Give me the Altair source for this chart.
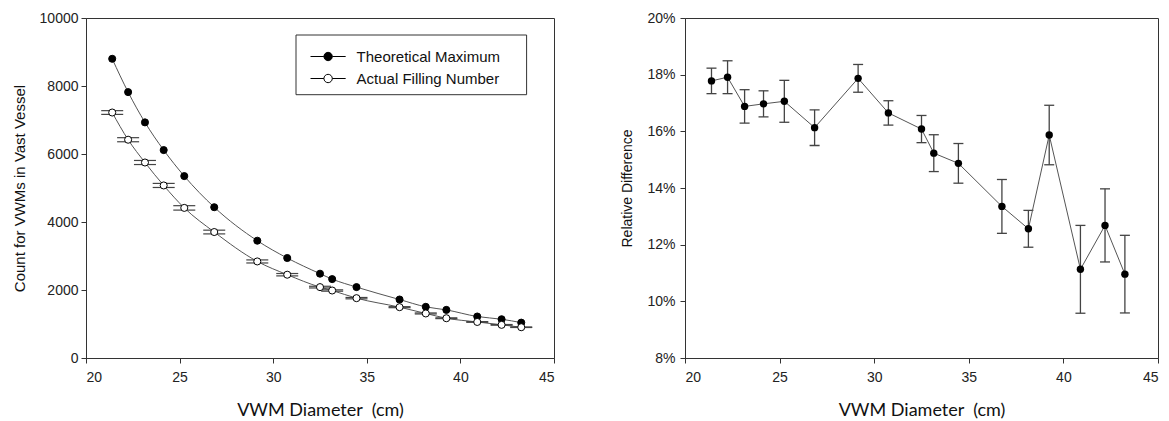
import altair as alt
import pandas as pd

# ---------------- data ----------------
diameter = [21.4, 22.25, 23.15, 24.15, 25.25, 26.85, 29.15, 30.75, 32.5,
            33.15, 34.45, 36.75, 38.15, 39.25, 40.9, 42.2, 43.25]
theoretical = [8800, 7820, 6930, 6115, 5350, 4435, 3450, 2940, 2480,
               2320, 2085, 1720, 1505, 1415, 1220, 1140, 1040]
actual = [7220, 6420, 5750, 5075, 4415, 3705, 2840, 2450, 2085,
          1985, 1760, 1495, 1310, 1170, 1060, 975, 905]
actual_err = [55, 60, 60, 60, 65, 55, 45, 35, 25, 20, 20, 15, 15, 12, 10, 10, 8]
rel_diff = [17.78, 17.91, 16.88, 16.97, 17.06, 16.13, 17.87, 16.65, 16.08,
            15.23, 14.87, 13.35, 12.56, 15.87, 11.13, 12.68, 10.96]
rel_err = [0.45, 0.58, 0.59, 0.46, 0.74, 0.63, 0.49, 0.43, 0.48,
           0.65, 0.70, 0.95, 0.65, 1.05, 1.55, 1.29, 1.37]
series_names = ["Theoretical Maximum", "Actual Filling Number"]
x_ticks = [20, 25, 30, 35, 40, 45]
count_ticks = [0, 2000, 4000, 6000, 8000, 10000]
pct_ticks = [8, 10, 12, 14, 16, 18, 20]

n = len(diameter)
df_left = pd.DataFrame({
    "d": diameter * 2,
    "count": theoretical + actual,
    "series": [series_names[0]] * n + [series_names[1]] * n,
})
df_act = pd.DataFrame({"d": diameter, "count": actual, "err": actual_err})
df_right = pd.DataFrame({"d": diameter, "rel": rel_diff, "err": rel_err})

AX = dict(domainColor="#333", tickColor="#333", tickSize=5, tickWidth=1,
          labelFont="Liberation Sans", labelFontSize=14, labelColor="#222",
          grid=False, titleColor="#111", titleFontWeight="normal")

x_axis = alt.Axis(values=x_ticks, title="VWM Diameter\u00a0 (cm)", titleFont="Lato",
                  titleFontSize=18, titlePadding=17, labelPadding=7, format="d", **AX)
x_scale = alt.Scale(domain=[20, 45], nice=False, zero=False)

W_L, W_R, H = 468, 473, 340

# ---------------- left panel ----------------
yL = alt.Y("count:Q", scale=alt.Scale(domain=[0, 10000], nice=False),
           axis=alt.Axis(values=count_ticks, title="Count for VWMs in Vast Vessel",
                         titleFont="Liberation Sans", titleFontSize=15, format="d",
                         titlePadding=12, labelPadding=3, **AX))
xL = alt.X("d:Q", scale=x_scale, axis=x_axis)

lines_L = alt.Chart(df_left).mark_line(interpolate="monotone", color="#555",
                                       strokeWidth=1).encode(x=xL, y=yL, detail="series:N")

caps_L = (alt.Chart(df_act)
          .transform_calculate(lo="datum.count - datum.err", hi="datum.count + datum.err")
          .transform_fold(["lo", "hi"], as_=["k", "v"])
          .mark_tick(orient="horizontal", size=22, thickness=1.2, color="#444", opacity=1)
          .encode(x=alt.X("d:Q", scale=x_scale, axis=x_axis), y=alt.Y("v:Q")))

legend_box = alt.Chart(pd.DataFrame({"k": [0]})).mark_rect(
    fill="white", stroke="#333", strokeWidth=1).encode(
    x=alt.value(210), x2=alt.value(440.6), y=alt.value(17), y2=alt.value(76.7))

SYMBOL = "M-4.2,0L-1,0M1,0L4.2,0M-1,0A1,1,0,1,1,1,0A1,1,0,1,1,-1,0Z"
legend = alt.Legend(title=None, orient="none", legendX=208, legendY=20,
                    direction="vertical", symbolType=SYMBOL, symbolSize=70,
                    symbolStrokeColor="black", symbolStrokeWidth=1,
                    symbolOffset=15.6, labelOffset=21, labelFont="Liberation Sans",
                    labelFontSize=15, labelColor="#111", labelLimit=400,
                    padding=11, rowPadding=6)

points_L = alt.Chart(df_left).mark_point(filled=True, size=50, stroke="black",
                                         strokeWidth=1, opacity=1).encode(
    x=xL, y=yL,
    fill=alt.Fill("series:N", scale=alt.Scale(domain=series_names, range=["black", "white"]),
                  legend=legend))

left = alt.layer(legend_box, lines_L, caps_L, points_L).properties(width=W_L, height=H)

# ---------------- right panel ----------------
yR_axis = alt.Axis(values=pct_ticks, labelExpr="datum.value + '%'", title="Relative Difference",
                   titleFont="Liberation Sans", titleFontSize=14, titlePadding=12,
                   labelPadding=5, **AX)
yR_scale = alt.Scale(domain=[8, 20], nice=False, zero=False)
yR = alt.Y("rel:Q", scale=yR_scale, axis=yR_axis)
xR = alt.X("d:Q", scale=x_scale, axis=x_axis)

base_R = alt.Chart(df_right).transform_calculate(lo="datum.rel - datum.err",
                                                 hi="datum.rel + datum.err")
whisk_R = base_R.mark_rule(color="#444", strokeWidth=1.3).encode(
    x=xR, y=alt.Y("lo:Q", scale=yR_scale, axis=yR_axis), y2="hi:Q")
caps_R = (base_R.transform_fold(["lo", "hi"], as_=["k", "v"])
          .mark_tick(orient="horizontal", size=10, thickness=1.3, color="#444", opacity=1)
          .encode(x=xR, y=alt.Y("v:Q", scale=yR_scale, axis=yR_axis)))
line_R = base_R.mark_line(color="#555", strokeWidth=1).encode(x=xR, y=yR)
pts_R = base_R.mark_point(filled=True, size=55, color="black", opacity=1).encode(x=xR, y=yR)

right = alt.layer(whisk_R, caps_R, line_R, pts_R).properties(width=W_R, height=H)

chart = (alt.hconcat(left, right, spacing=131, bounds="flush")
         .configure_view(stroke="#333", strokeWidth=1)
         .properties(padding={"left": 11, "top": 10, "right": 2, "bottom": 5}, background="white"))

chart.save("out.html", embed_options={"renderer": "svg", "actions": False})
